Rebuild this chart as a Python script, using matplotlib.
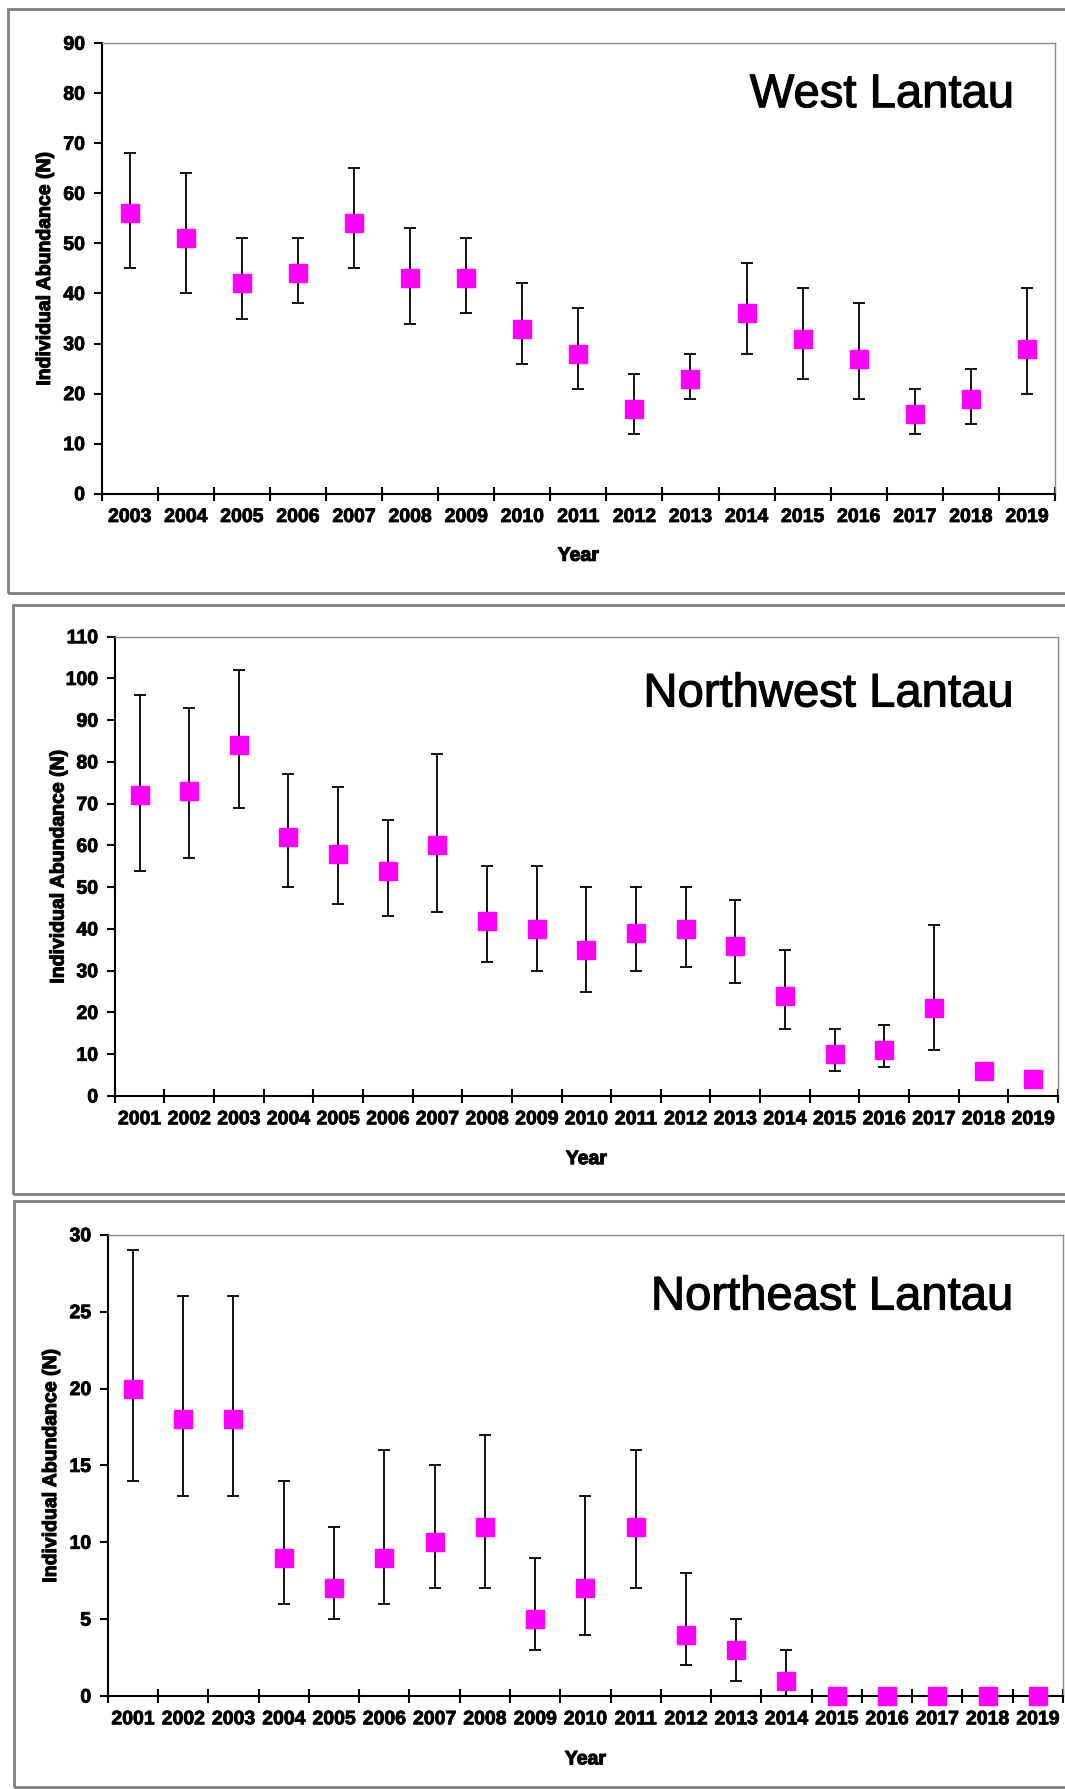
import numpy as np
import matplotlib.pyplot as plt
import matplotlib.patheffects as pe
from matplotlib.patches import Rectangle

# data (mean, lower and upper end of error bar)
west_years = list(range(2003, 2020))
west_mean = [56, 51, 42, 44, 54, 43, 43, 33, 28, 17, 23, 36, 31, 27, 16, 19, 29]
west_low = [45, 40, 35, 38, 45, 34, 36, 26, 21, 12, 19, 28, 23, 19, 12, 14, 20]
west_high = [68, 64, 51, 51, 65, 53, 51, 42, 37, 24, 28, 46, 41, 38, 21, 25, 41]

nw_years = list(range(2001, 2020))
nw_mean = [72, 73, 84, 62, 58, 54, 60, 42, 40, 35, 39, 40, 36, 24, 10, 11, 21, 6, 4]
nw_low = [54, 57, 69, 50, 46, 43, 44, 32, 30, 25, 30, 31, 27, 16, 6, 7, 11, 6, 4]
nw_high = [96, 93, 102, 77, 74, 66, 82, 55, 55, 50, 50, 50, 47, 35, 16, 17, 41, 6, 4]

ne_years = list(range(2001, 2020))
ne_mean = [20, 18, 18, 9, 7, 9, 10, 11, 5, 7, 11, 4, 3, 1, 0, 0, 0, 0, 0]
ne_low = [14, 13, 13, 6, 5, 6, 7, 7, 3, 4, 7, 2, 1, 0, 0, 0, 0, 0, 0]
ne_high = [29, 26, 26, 14, 11, 16, 15, 17, 9, 13, 16, 8, 5, 3, 0, 0, 0, 0, 0]

W, H = 1065, 1789
tick_font = ['Liberation Sans Narrow', 'Liberation Sans', 'DejaVu Sans']
label_font = ['Liberation Sans', 'DejaVu Sans']
heavy = [pe.withStroke(linewidth=0.8, foreground='black')]

fig = plt.figure(figsize=(W / 100, H / 100), dpi=100)


def px_rect(x0, y0, x1, y1):
    # pixel box (top-left origin) -> figure fraction rect
    return [x0 / W, (H - y1) / H, (x1 - x0) / W, (y1 - y0) / H]


def panel(box, axbox, years, mean, low, high, ymax, ystep, title, tx, ty):
    fig.patches.append(Rectangle((box[0] / W, (H - box[3]) / H),
                                 (box[2] - box[0]) / W, (box[3] - box[1]) / H,
                                 transform=fig.transFigure, fill=False,
                                 edgecolor='#7f7f7f', linewidth=2))
    ax = fig.add_axes(px_rect(*axbox))
    n = len(years)
    x = np.arange(n)
    mean = np.array(mean)
    err = [mean - np.array(low), np.array(high) - mean]
    ax.errorbar(x, mean, yerr=err, fmt='s', ms=13, mfc='#ff00ff', mec='#ff00ff',
                ecolor='black', elinewidth=1.3, capsize=4.5, capthick=1.3,
                clip_on=False, zorder=3)
    ax.set_xlim(-0.5, n - 0.5)
    ax.set_ylim(0, ymax)
    ax.set_yticks(np.arange(0, ymax + 1, ystep))
    ax.set_xticks(np.arange(n + 1) - 0.5, labels=[''] * (n + 1))
    ax.set_xticks(x, labels=[str(y) for y in years], minor=True)
    ax.tick_params(axis='x', which='major', direction='inout', length=10, width=1.5)
    ax.tick_params(axis='x', which='minor', length=0, pad=11)
    ax.tick_params(axis='y', direction='out', length=6, width=1.5, pad=6)
    for lab in ax.get_xticklabels(minor=True) + ax.get_yticklabels():
        lab.set_family(tick_font)
        lab.set_fontweight('bold')
        lab.set_fontsize(14)
        lab.set_path_effects([pe.withStroke(linewidth=0.6, foreground='black')])
    for s in ['top', 'right']:
        ax.spines[s].set_color('#8a8a8a')
        ax.spines[s].set_linewidth(1)
    for s in ['left', 'bottom']:
        ax.spines[s].set_linewidth(1.5)
    ax.set_ylabel('Individual Abundance (N)', fontsize=14, fontweight='bold',
                  family=label_font, path_effects=heavy)
    ax.yaxis.set_label_coords(-0.05, 0.5)
    ax.set_xlabel('Year', fontsize=14, fontweight='bold', family=label_font,
                  path_effects=heavy)
    ax.xaxis.set_label_coords(0.5, -0.12)
    ax.text(tx, ty, title, transform=ax.transAxes, ha='right', va='baseline',
            fontsize=34, family=label_font, path_effects=heavy)
    return ax


panel((8, 9, 1070, 593), (101.6, 43.2, 1055, 493.7), west_years, west_mean,
      west_low, west_high, 90, 10, 'West Lantau', 0.957, 0.858)
panel((13, 604.5, 1070, 1194), (114.7, 636.7, 1058, 1096), nw_years, nw_mean,
      nw_low, nw_high, 110, 10, 'Northwest Lantau', 0.953, 0.848)
panel((14, 1201, 1070, 1787), (107.8, 1234.8, 1063, 1696), ne_years, ne_mean,
      ne_low, ne_high, 30, 5, 'Northeast Lantau', 0.948, 0.838)

fig.savefig('out.png', dpi=100)
